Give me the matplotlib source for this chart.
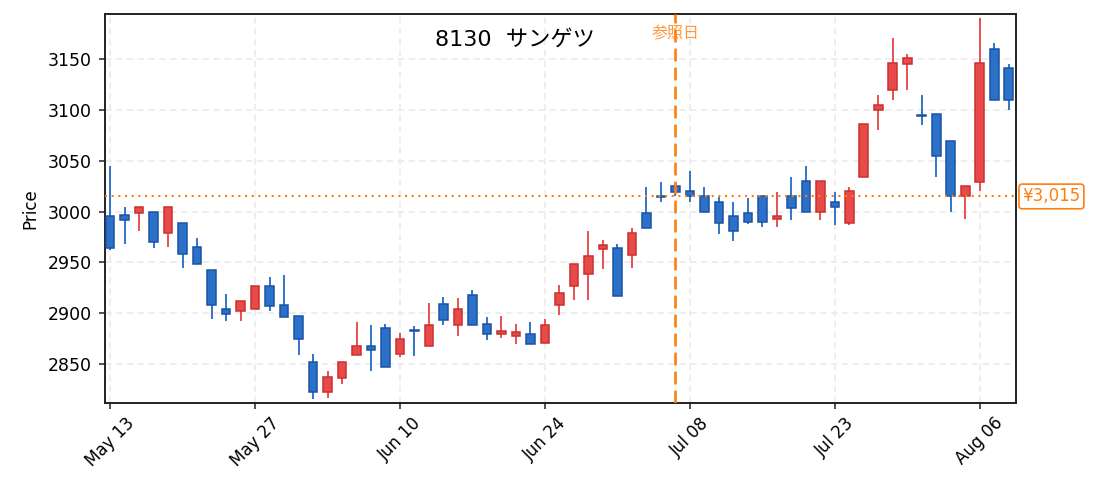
import numpy as np
import pandas as pd
import matplotlib
matplotlib.use("Agg")
import matplotlib.pyplot as plt
from matplotlib.patches import Rectangle

plt.rcParams['font.family'] = ['DejaVu Sans', 'Noto Sans CJK JP']

# daily candles, Tokyo trading days from 2024-05-13
dates = pd.to_datetime([
    "2024-05-13", "2024-05-14", "2024-05-15", "2024-05-16", "2024-05-17",
    "2024-05-20", "2024-05-21", "2024-05-22", "2024-05-23", "2024-05-24",
    "2024-05-27", "2024-05-28", "2024-05-29", "2024-05-30", "2024-05-31",
    "2024-06-03", "2024-06-04", "2024-06-05", "2024-06-06", "2024-06-07",
    "2024-06-10", "2024-06-11", "2024-06-12", "2024-06-13", "2024-06-14",
    "2024-06-17", "2024-06-18", "2024-06-19", "2024-06-20", "2024-06-21",
    "2024-06-24", "2024-06-25", "2024-06-26", "2024-06-27", "2024-06-28",
    "2024-07-01", "2024-07-02", "2024-07-03", "2024-07-04", "2024-07-05",
    "2024-07-08", "2024-07-09", "2024-07-10", "2024-07-11", "2024-07-12",
    "2024-07-16", "2024-07-17", "2024-07-18", "2024-07-19", "2024-07-22",
    "2024-07-23", "2024-07-24", "2024-07-25", "2024-07-26", "2024-07-29",
    "2024-07-30", "2024-07-31", "2024-08-01", "2024-08-02", "2024-08-05",
    "2024-08-06", "2024-08-07", "2024-08-08",
])
opens = [2996, 2997, 2999, 3000, 2979, 2989, 2965, 2943, 2904, 2902,
         2904, 2927, 2908, 2897, 2852, 2823, 2836, 2859, 2868, 2886,
         2860, 2884, 2868, 2909, 2888, 2918, 2889, 2880, 2878, 2880,
         2871, 2908, 2927, 2939, 2963, 2964, 2957, 2999, 3015, 3025,
         3020, 3015, 3010, 2996, 2999, 3015, 2993, 3015, 3030, 3000,
         3010, 2989, 3034, 3100, 3120, 3145, 3095, 3096, 3070, 3015,
         3029, 3160, 3141]
closes = [2964, 2992, 3005, 2970, 3005, 2958, 2949, 2908, 2899, 2912,
          2927, 2907, 2896, 2875, 2823, 2837, 2852, 2868, 2864, 2847,
          2875, 2883, 2888, 2893, 2904, 2888, 2880, 2883, 2882, 2870,
          2888, 2920, 2949, 2956, 2967, 2917, 2979, 2984, 3014, 3019,
          3015, 3000, 2989, 2981, 2990, 2990, 2996, 3004, 3000, 3030,
          3005, 3020, 3086, 3105, 3146, 3151, 3094, 3055, 3015, 3025,
          3146, 3110, 3110]
highs = [3045, 3005, 3005, 3000, 3005, 2989, 2974, 2943, 2919, 2912,
         2927, 2936, 2938, 2897, 2860, 2843, 2852, 2891, 2888, 2889,
         2881, 2887, 2910, 2916, 2915, 2923, 2896, 2897, 2889, 2891,
         2894, 2928, 2949, 2981, 2972, 2968, 2984, 3024, 3029, 3028,
         3040, 3024, 3014, 3010, 3013, 3015, 3019, 3034, 3045, 3030,
         3019, 3024, 3086, 3115, 3171, 3155, 3115, 3096, 3070, 3025,
         3191, 3166, 3145]
lows = [2962, 2968, 2981, 2964, 2965, 2945, 2949, 2894, 2892, 2892,
        2904, 2902, 2896, 2859, 2816, 2817, 2830, 2859, 2843, 2847,
        2857, 2858, 2868, 2888, 2878, 2888, 2874, 2876, 2870, 2870,
        2871, 2898, 2913, 2913, 2944, 2917, 2945, 2984, 3010, 3015,
        3010, 3000, 2978, 2971, 2988, 2985, 2985, 2992, 3000, 2992,
        2987, 2987, 3034, 3080, 3110, 3120, 3085, 3034, 3000, 2993,
        3020, 3110, 3100]

ticker = "8130"
name = "サンゲツ"
ref_index = 39          # 参照日 (2024-07-05)
ref_price = 3015

up_face, up_edge = "#e84a4a", "#c93030"
down_face, down_edge = "#2b70c9", "#1b52a3"
orange = "#ff7f0e"

fig = plt.figure(figsize=(10.95, 4.92), dpi=100)
ax = fig.add_axes([0.0959, 0.1809, 0.832, 0.7907])

x = np.arange(len(dates))
body_w = 0.6
for i in x:
    o, c, h, l = opens[i], closes[i], highs[i], lows[i]
    up = c >= o
    face = up_face if up else down_face
    edge = up_edge if up else down_edge
    ax.vlines(i, l, h, color=face, linewidth=1.35, zorder=2)
    bottom = min(o, c)
    height = max(abs(c - o), 0.8)
    ax.add_patch(Rectangle((i - body_w / 2, bottom), body_w, height,
                           facecolor=face, edgecolor=edge, linewidth=1.1, zorder=3))

# reference day and price
ax.axvline(ref_index, color=orange, linestyle=(0, (4.9, 2.3)), linewidth=1.9, zorder=4)
ax.axhline(ref_price, color=orange, linestyle=(0, (1, 2.2)), linewidth=1.5, zorder=4)
ax.text(ref_index, 0.9486, "参照日", transform=ax.get_xaxis_transform(), color=orange,
        fontsize=11.5, ha="center", va="center", alpha=0.8)
ax.annotate(f"¥{ref_price:,}", xy=(1.0, ref_price), xycoords=("axes fraction", "data"),
            xytext=(4.5, 0), textcoords="offset points", ha="left", va="center",
            color=orange, fontsize=12,
            bbox=dict(boxstyle="round,pad=0.2", facecolor="white", edgecolor=orange, linewidth=1.2))

ax.text(0.45, 0.933, f"{ticker}  {name}", transform=ax.transAxes, ha="center", va="center", fontsize=16)

ax.set_xlim(-0.35, 62.5)
ax.set_ylim(2811.7, 3194.6)
ticks = x[::10]
ax.set_xticks(ticks)
ax.set_xticklabels([dates[i].strftime("%b %d") for i in ticks], rotation=45, fontsize=12,
                   ha="center", rotation_mode="default")
ax.set_yticks([2850, 2900, 2950, 3000, 3050, 3100, 3150])
ax.tick_params(axis="y", labelsize=12.5, pad=5)
ax.tick_params(length=4.5, width=1.1, color="#222222")
ax.set_ylabel("Price", fontsize=12, labelpad=6)
ax.grid(True, linestyle=(0, (4, 2.5)), color="#ebebeb", linewidth=1.2)
ax.set_axisbelow(True)
for s in ax.spines.values():
    s.set_color("#222222")
    s.set_linewidth(1.4)

fig.savefig("out.png", dpi=100)
